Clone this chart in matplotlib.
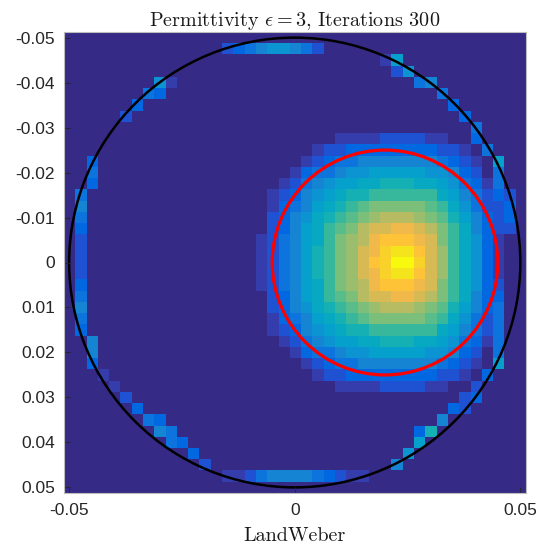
import numpy as np
import matplotlib
matplotlib.use("Agg")
import matplotlib.pyplot as plt
from matplotlib.colors import ListedColormap
from matplotlib.patches import Circle

# ---------------- data ----------------
title_text = r"Permittivity $\epsilon = 3$, Iterations 300"
xlabel_text = "LandWeber"
x_ticks = [-0.05, 0.0, 0.05]
x_tick_labels = ["-0.05", "0", "0.05"]
y_ticks = [-0.05, -0.04, -0.03, -0.02, -0.01, 0.0, 0.01, 0.02, 0.03, 0.04, 0.05]
y_tick_labels = ["-0.05", "-0.04", "-0.03", "-0.02", "-0.01", "0",
                 "0.01", "0.02", "0.03", "0.04", "0.05"]

grid_min = -0.05      # centre of first cell
grid_max = 0.05       # centre of last cell
grid_n = 41           # cells per side
level_max = 20        # each char is a base-36 level 0..20  (value = level/20)

outer_circle = (0.0, 0.0, 0.05)     # x, y, r   (black)
inner_circle = (0.02, 0.0, 0.025)   # x, y, r   (red)

Z17 = "0" * 17
rows = [
    "0" * 41,                                                    # j0
    "0" * 14 + "234566542" + "0" * 18,                           # j1
    "0" * 28 + "17" + "0" * 11,                                  # j2
    "0" * 29 + "26" + "0" * 10,                                  # j3
    "0" * 8 + "61" + "0" * 21 + "45" + "0" * 8,                  # j4
    "0" * 7 + "43" + "0" * 24 + "4" + "0" * 7,                   # j5
    "0" * 6 + "3" + "0" * 27 + "3" + "0" * 6,                    # j6
    "0" * 5 + "2" + "0" * 29 + "3" + "0" * 5,                    # j7
    "0" * 36 + "4" + "0" * 4,                                    # j8
    Z17 + "0000000111122221100300" + "00",                       # j9
    Z17 + "0000012233333333221040" + "00",                       # j10
    "00300000000000000" + "0000123445555555432107" + "00",       # j11
    "00400000000000000" + "0001344566777776653204" + "00",       # j12
    "00300000000000000" + "0012456778899988764314" + "00",       # j13
    "04000000000000000" + "0123567899aaaaaa875423" + "20",       # j14
    "05000000000000000" + "01345789abcccccba86422" + "30",       # j15
    "04000000000000000" + "0235689abcdeeedcb97532" + "30",       # j16
    "03000000000000000" + "023578abceffggfeca8532" + "20",       # j17
    "02000000000000000" + "124578acdeghhhgfca8631" + "00",       # j18
    "02000000000000000" + "124579acdfgijjhfda8631" + "00",       # j19
    "02000000000000000" + "124579acdfhikkifda8631" + "00",       # j20
    "02000000000000000" + "124579acdfgijjhfda8631" + "00",       # j21
    "03000000000000000" + "124578acdeghhhgfca8632" + "00",       # j22
    "04000000000000000" + "023578abceffggfeca8533" + "00",       # j23
    "05000000000000000" + "0235689abcdeeedcb97534" + "00",       # j24
    "04000000000000000" + "01345789abcccccba86424" + "00",       # j25
    "03000000000000000" + "0123567899aaaaaa875424" + "00",       # j26
    "00500000000000000" + "0012456778899988764314" + "00",       # j27
    "00500000000000000" + "0001344566777776653204" + "00",       # j28
    "00300000000000000" + "0000123445555555432107" + "00",       # j29
    "00010000000000000" + "0000012233333333221030" + "00",       # j30
    "00001000000000000" + "0000000111122221100200" + "00",       # j31
    "0" * 5 + "2" + "0" * 29 + "23" + "0" * 4,                   # j32
    "0" * 6 + "3" + "0" * 27 + "32" + "0" * 5,                   # j33
    "0" * 7 + "43" + "0" * 24 + "5" + "0" * 7,                   # j34
    "0" * 8 + "54" + "0" * 21 + "39" + "0" * 8,                  # j35
    "0" * 9 + "43" + "0" * 20 + "7" + "0" * 9,                   # j36
    "0" * 11 + "3" + "0" * 18 + "6" + "0" * 10,                  # j37
    "0" * 12 + "2" + "0" * 16 + "5" + "0" * 11,                  # j38
    "0" * 14 + "1124555543211" + "0" * 14,                       # j39
    "0" * 41,                                                    # j40
]

# MATLAB parula (64 entries)
parula_rgb = [
    [0.2081, 0.1663, 0.5292], [0.2116, 0.1898, 0.5777], [0.2123, 0.2138, 0.6270],
    [0.2081, 0.2386, 0.6771], [0.1959, 0.2645, 0.7279], [0.1707, 0.2919, 0.7792],
    [0.1253, 0.3242, 0.8303], [0.0591, 0.3598, 0.8683], [0.0117, 0.3875, 0.8820],
    [0.0060, 0.4086, 0.8828], [0.0165, 0.4266, 0.8786], [0.0329, 0.4430, 0.8720],
    [0.0498, 0.4586, 0.8641], [0.0629, 0.4737, 0.8554], [0.0723, 0.4887, 0.8467],
    [0.0779, 0.5040, 0.8384], [0.0793, 0.5200, 0.8312], [0.0749, 0.5375, 0.8263],
    [0.0641, 0.5570, 0.8240], [0.0488, 0.5772, 0.8228], [0.0343, 0.5966, 0.8199],
    [0.0265, 0.6137, 0.8135], [0.0239, 0.6287, 0.8038], [0.0231, 0.6418, 0.7913],
    [0.0228, 0.6535, 0.7768], [0.0267, 0.6642, 0.7607], [0.0384, 0.6743, 0.7436],
    [0.0590, 0.6838, 0.7254], [0.0843, 0.6928, 0.7062], [0.1133, 0.7015, 0.6859],
    [0.1453, 0.7098, 0.6646], [0.1801, 0.7177, 0.6424], [0.2178, 0.7250, 0.6193],
    [0.2586, 0.7317, 0.5954], [0.3022, 0.7376, 0.5712], [0.3482, 0.7424, 0.5473],
    [0.3953, 0.7459, 0.5244], [0.4420, 0.7481, 0.5033], [0.4871, 0.7491, 0.4840],
    [0.5300, 0.7491, 0.4661], [0.5709, 0.7485, 0.4494], [0.6099, 0.7473, 0.4337],
    [0.6473, 0.7456, 0.4188], [0.6834, 0.7435, 0.4044], [0.7184, 0.7411, 0.3905],
    [0.7525, 0.7384, 0.3768], [0.7858, 0.7356, 0.3633], [0.8185, 0.7327, 0.3498],
    [0.8507, 0.7299, 0.3360], [0.8824, 0.7274, 0.3217], [0.9139, 0.7258, 0.3063],
    [0.9450, 0.7261, 0.2886], [0.9739, 0.7314, 0.2666], [0.9938, 0.7455, 0.2403],
    [0.9990, 0.7653, 0.2164], [0.9955, 0.7861, 0.1967], [0.9880, 0.8066, 0.1794],
    [0.9789, 0.8271, 0.1633], [0.9697, 0.8481, 0.1475], [0.9626, 0.8705, 0.1309],
    [0.9589, 0.8949, 0.1132], [0.9598, 0.9218, 0.0948], [0.9661, 0.9514, 0.0755],
    [0.9763, 0.9831, 0.0538],
]

# ---------------- build ----------------
grid = np.array([[int(c, 36) for c in r.ljust(grid_n, "0")[:grid_n]] for r in rows],
                dtype=float) / level_max
half = (grid_max - grid_min) / (grid_n - 1) / 2.0
ext = (grid_min - half, grid_max + half, grid_max + half, grid_min - half)

parula = ListedColormap(parula_rgb, name="parula")

plt.rcParams["mathtext.fontset"] = "cm"
plt.rcParams["axes.unicode_minus"] = False

W, H = 536, 549
fig = plt.figure(figsize=(W / 100, H / 100), dpi=100)
ax = fig.add_axes([63.5 / W, 1 - 493 / H, (526 - 63.5) / W, (493 - 32) / H])

ax.imshow(grid, cmap=parula, vmin=0, vmax=1, extent=ext, origin="upper",
          interpolation="nearest", aspect="auto")

ax.add_patch(Circle(outer_circle[:2], outer_circle[2], fill=False,
                    edgecolor="black", linewidth=1.8))
ax.add_patch(Circle(inner_circle[:2], inner_circle[2], fill=False,
                    edgecolor="#ff0000", linewidth=2.3))

ax.set_xlim(ext[0], ext[1])
ax.set_ylim(ext[2], ext[3])

tick_font = dict(family="Liberation Sans", size=12.5)
ax.set_xticks(x_ticks)
ax.set_xticklabels(x_tick_labels, fontdict=tick_font)
ax.set_yticks(y_ticks)
ax.set_yticklabels(y_tick_labels, fontdict=tick_font)
ax.tick_params(direction="in", length=4, width=0.6, color="#262626",
               labelcolor="#262626", top=False, right=False)
ax.tick_params(axis="x", pad=7)
ax.tick_params(axis="y", pad=6)
for s in ax.spines.values():
    s.set_color("#bdbdbd")
    s.set_linewidth(0.8)

ax.set_title(title_text, fontfamily="cmr10", fontsize=14.5, pad=3, color="#1a1a1a")
ax.set_xlabel(xlabel_text, fontfamily="cmr10", fontsize=14.5, labelpad=7, color="#1a1a1a")

fig.savefig("out.png", dpi=100)
